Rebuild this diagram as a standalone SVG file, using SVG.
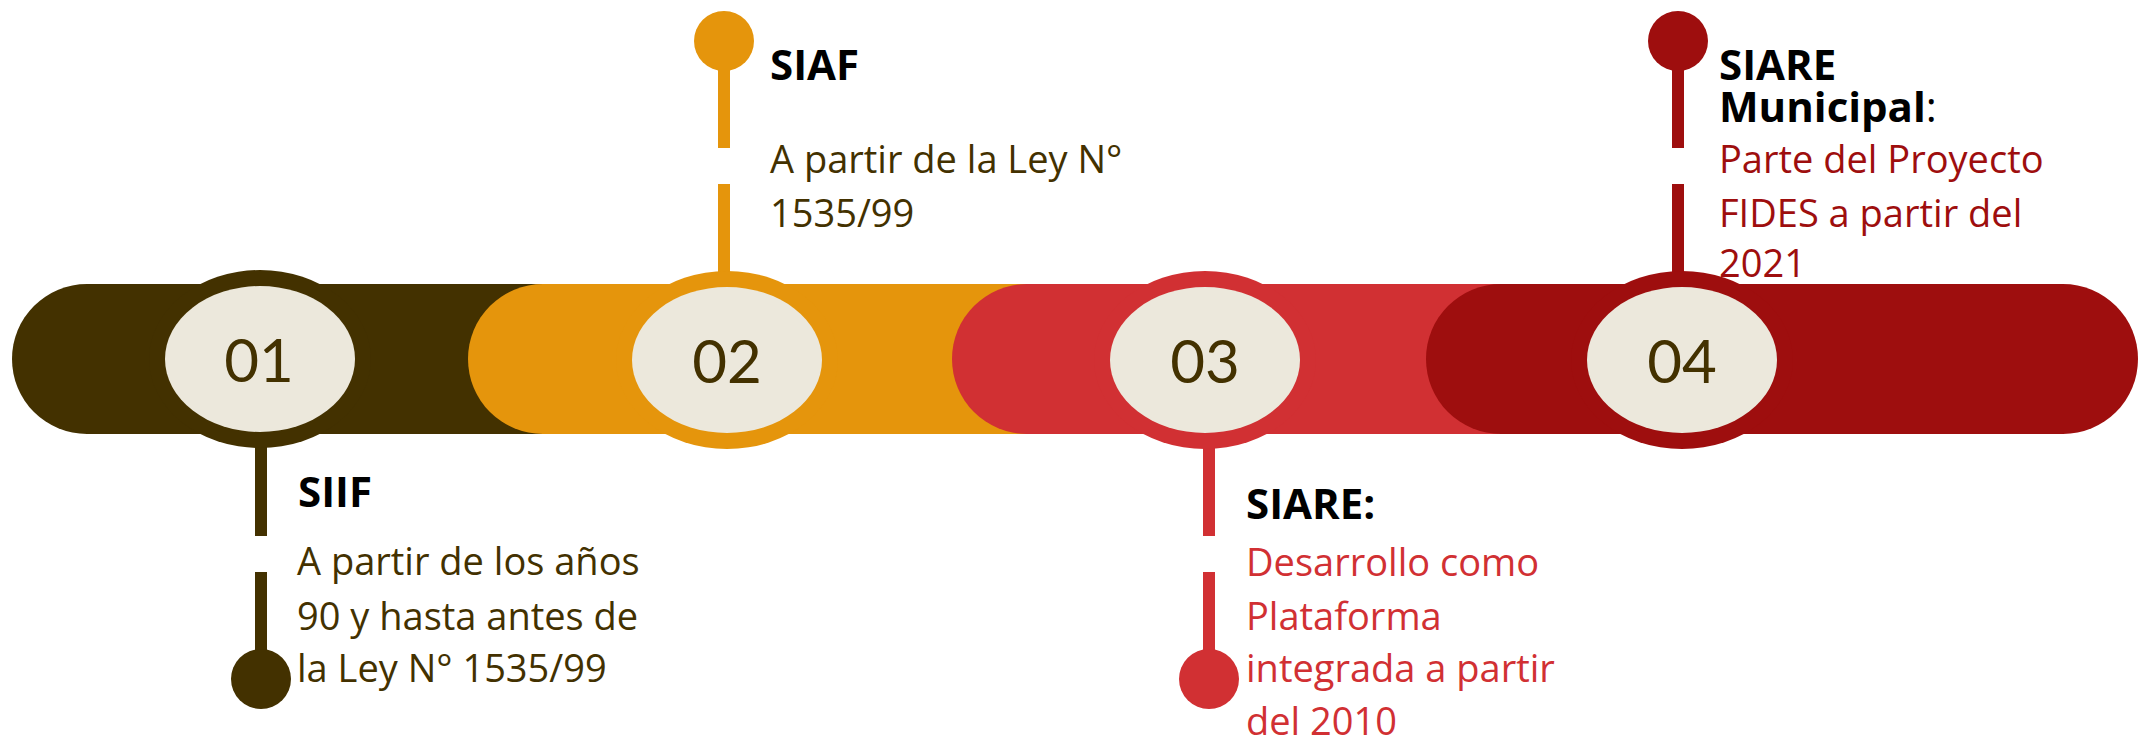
<svg xmlns="http://www.w3.org/2000/svg" width="2142" height="740" viewBox="0 0 2142 740">
<style>
.body{font-family:"Open Sans","Liberation Sans",sans-serif;font-size:38px}
.title{font-family:"Open Sans","Liberation Sans",sans-serif;font-size:42px;font-weight:bold;fill:#000}
.num{font-family:Lato,"Liberation Sans",sans-serif;font-size:60px;fill:#433100;text-anchor:middle}
.inner{fill:#ECE8DC}
</style>
<rect width="2142" height="740" fill="#fff"/>
<g id="band1"><rect x="12" y="284" width="620" height="150" rx="75" fill="#433100"/></g>
<g id="band2"><rect x="468" y="284" width="680" height="150" rx="75" fill="#E5950C"/></g>
<g id="band3"><rect x="952" y="284" width="620" height="150" rx="75" fill="#D13033"/></g>
<g id="band4"><rect x="1426" y="284" width="712" height="150" rx="75" fill="#9E0E0E"/></g>
<g id="connectors">
<rect x="255" y="440" width="12" height="96" fill="#433100"/>
<rect x="255" y="572" width="12" height="80" fill="#433100"/>
<circle cx="261" cy="679" r="30" fill="#433100"/>
<circle cx="724" cy="41" r="30" fill="#E5950C"/>
<rect x="718" y="65" width="12" height="83" fill="#E5950C"/>
<rect x="718" y="184" width="12" height="95" fill="#E5950C"/>
<rect x="1203" y="440" width="12" height="96" fill="#D13033"/>
<rect x="1203" y="572" width="12" height="80" fill="#D13033"/>
<circle cx="1209" cy="679" r="30" fill="#D13033"/>
<circle cx="1678" cy="41" r="30" fill="#9E0E0E"/>
<rect x="1672" y="65" width="12" height="83" fill="#9E0E0E"/>
<rect x="1672" y="184" width="12" height="95" fill="#9E0E0E"/>
</g>
<g id="node01">
<ellipse cx="260" cy="359" rx="111" ry="89" fill="#433100"/>
<ellipse class="inner" cx="260" cy="359" rx="95" ry="73"/>
<text class="num" x="259" y="382">01</text>
</g>
<g id="node02">
<ellipse cx="727" cy="360" rx="111" ry="89" fill="#E5950C"/>
<ellipse class="inner" cx="727" cy="360" rx="95" ry="73"/>
<text class="num" x="727" y="383">02</text>
</g>
<g id="node03">
<ellipse cx="1205" cy="360" rx="111" ry="89" fill="#D13033"/>
<ellipse class="inner" cx="1205" cy="360" rx="95" ry="73"/>
<text class="num" x="1205" y="383">03</text>
</g>
<g id="node04">
<ellipse cx="1682" cy="360" rx="111" ry="89" fill="#9E0E0E"/>
<ellipse class="inner" cx="1682" cy="360" rx="95" ry="73"/>
<text class="num" x="1682" y="383">04</text>
</g>
<g id="label01">
<text class="title" x="298" y="507">SIIF</text>
<text class="body" fill="#433100"><tspan x="297" y="575">A partir de los años</tspan><tspan x="297" y="630">90 y hasta antes de</tspan><tspan x="297" y="682">la Ley N° 1535/99</tspan></text>
</g>
<g id="label02">
<text class="title" x="770" y="80">SIAF</text>
<text class="body" fill="#433100"><tspan x="770" y="173">A partir de la Ley N°</tspan><tspan x="770" y="227">1535/99</tspan></text>
</g>
<g id="label03">
<text class="title" x="1246" y="519">SIARE:</text>
<text class="body" fill="#D13033"><tspan x="1246" y="576">Desarrollo como</tspan><tspan x="1246" y="630">Plataforma</tspan><tspan x="1246" y="682">integrada a partir</tspan><tspan x="1246" y="735">del 2010</tspan></text>
</g>
<g id="label04">
<text class="title" x="1719" y="80">SIARE</text>
<text class="title" x="1719" y="122">Municipal<tspan font-weight="normal">:</tspan></text>
<text class="body" fill="#9E0E0E"><tspan x="1719" y="173">Parte del Proyecto</tspan><tspan x="1719" y="227">FIDES a partir del</tspan><tspan x="1719" y="277">2021</tspan></text>
</g>
</svg>
